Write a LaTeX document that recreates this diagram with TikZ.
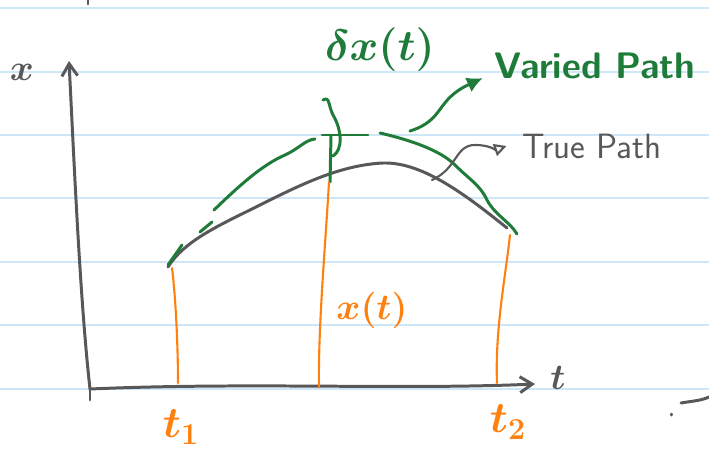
\documentclass[tikz,border=0pt]{standalone}
\usepackage{amsmath}
\usepackage{xcolor}
\usetikzlibrary{arrows.meta}
\definecolor{noteink}{HTML}{58585A}
\definecolor{notegreen}{HTML}{1E7B3A}
\definecolor{noteorange}{HTML}{FF800E}
\definecolor{noterule}{HTML}{CDE6F8}

\begin{document}
\begin{tikzpicture}[
  x=0.02cm,
  y=-0.02cm,
  line cap=round, line join=round,
  rule/.style={noterule, line width=1.1pt},
  ink/.style={noteink, line width=1.7pt},
  greenink/.style={notegreen, line width=1.7pt},
  orangeink/.style={noteorange, line width=1.2pt},
  axis/.style={ink, -{Straight Barb[length=7pt, width=9pt, line width=1.7pt]}},
  label/.style={inner sep=1pt}
]
  % ---- page, fixed to the reference size ----
  \useasboundingbox (0,0) rectangle (709,450);
  \fill[white] (0,0) rectangle (709,450);

  % ---- ruled lines of the note page ----
  \foreach \yy in {8,72,135,198,262,325,389}
    \draw[rule] (0,\yy) -- (709,\yy);

  % ---- stray marks from the page ----
  \draw[ink] (88,0) -- (88,4);
  \draw[ink] (671,414) -- (671,415);
  \draw[ink] (681,403) .. controls (692,401) and (700,401) .. (709,397);

  % ---- axes ----
  \coordinate (origin) at (90,389);
  \coordinate (ytop) at (69,61);
  \coordinate (xend) at (535,384);
  \draw[ink] (origin) -- (90,400);
  \draw[axis] (origin) .. controls (80,300) and (74,160) .. (ytop);
  \draw[axis] (origin) .. controls (250,382) and (400,390) .. (xend);
  \node[label, noteink, font=\fontsize{22}{26}\selectfont\boldmath] (xlab) at (22,72) {$x$};
  \node[label, noteink, font=\fontsize{22}{26}\selectfont\boldmath] (tlab) at (558,378) {$t$};

  % ---- true path ----
  \draw[ink] (168,267) .. controls (185,240) and (220,225) .. (260,205)
    .. controls (300,185) and (340,165) .. (383,163)
    .. controls (420,162) and (460,190) .. (507,228);

  % ---- varied path, drawn in broken strokes ----
  \draw[greenink] (168,265) -- (182,245);
  \draw[greenink] (200,232) -- (212,222);
  \draw[greenink] (214,210) .. controls (240,185) and (262,165) .. (285,155)
    .. controls (300,148) and (305,140) .. (315,139);
  \draw[greenink] (322,135) -- (368,135);
  \draw[greenink] (380,133) .. controls (410,140) and (440,150) .. (455,165)
    .. controls (470,180) and (480,185) .. (487,200)
    .. controls (495,215) and (510,222) .. (517,234);

  % ---- variation marker ----
  \draw[greenink] (323,100) .. controls (330,96) and (328,105) .. (333,115)
    .. controls (342,130) and (343,150) .. (333,156);
  \draw[greenink] (331,136) -- (330,182);
  \node[label, notegreen, font=\fontsize{24}{28}\selectfont\boldmath] (dxlab) at (380,50) {$\delta x(t)$};

  % ---- orange verticals ----
  \draw[orangeink] (172,268) .. controls (176,300) and (178,350) .. (178,383);
  \draw[orangeink] (329,182) .. controls (325,250) and (318,330) .. (319,387);
  \draw[orangeink] (510,235) .. controls (505,280) and (495,330) .. (497,383);
  \node[label, noteorange, font=\fontsize{21}{25}\selectfont\boldmath] (xtlab) at (372,310) {$x(t)$};
  \node[label, noteorange, font=\fontsize{23}{27}\selectfont\boldmath] (t1lab) at (181,427) {$t_1$};
  \node[label, noteorange, font=\fontsize{23}{27}\selectfont\boldmath] (t2lab) at (508,422) {$t_2$};

  % ---- path labels ----
  \node[label, notegreen, font=\fontsize{21}{25}\sffamily\bfseries\selectfont] (vlab) at (595,66) {Varied Path};
  \node[label, noteink, font=\fontsize{20}{24}\sffamily\selectfont] (tplab) at (592,146) {True Path};
  \coordinate (vstart) at (410,131);
  \coordinate (tstart) at (432,180);
  \draw[greenink, -{Latex[length=9pt, width=9pt]}] (vstart)
    .. controls (445,120) and (435,100) .. ([shift={(-10,-3)}]vlab.south west);
  \draw[ink, line width=1.2pt, -{Triangle[open, length=7pt, width=7pt]}] (tstart)
    .. controls (458,168) and (455,145) .. (475,145)
    .. controls (490,145) and (495,150) .. ([xshift=-8]tplab.west);
\end{tikzpicture}
\end{document}
